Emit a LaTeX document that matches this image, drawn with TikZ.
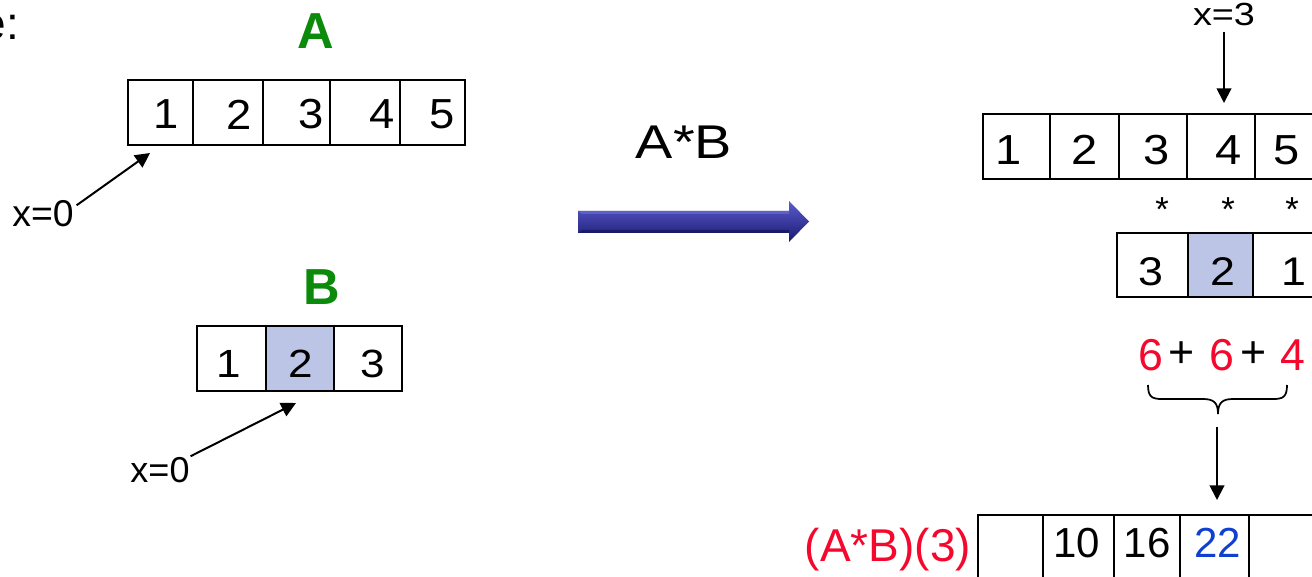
\documentclass[tikz,border=0pt]{standalone}
\usepackage{fontspec}
\setmainfont{Liberation Sans}
\usetikzlibrary{arrows.meta,fit}
\definecolor{lblgreen}{RGB}{12,138,12}
\definecolor{hlred}{RGB}{245,8,45}
\definecolor{hlblue}{RGB}{16,64,208}
\definecolor{cellblue}{RGB}{188,197,230}
\definecolor{bartop}{RGB}{92,92,205}
\definecolor{barmid}{RGB}{52,52,170}
\definecolor{barbot}{RGB}{24,24,112}
\definecolor{barhi}{RGB}{110,110,215}
\definecolor{barlo}{RGB}{20,20,95}
\newcommand{\fsz}[1]{\fontsize{#1}{1.2\dimexpr#1\relax}\selectfont}
\tikzset{
  cell/.style={draw=black, line width=1.4pt, inner sep=0pt, rectangle},
  hot/.style={cell, fill=cellblue},
  txt/.style={inner sep=0pt, outer sep=0pt},
  ptr/.style={-{Triangle[length=11pt,width=11pt]}, line width=1.5pt},
}
\begin{document}
\begin{tikzpicture}[x=0.75pt,y=-0.75pt]
\useasboundingbox (0,0) rectangle (1312,577);
\clip (0,0) rectangle (1312,577);

% heading fragment
\node[txt, anchor=base east, font=\fsz{34.5pt}] (head) at (19,40) {e:};

% ---------------- array A ----------------
\node[txt, font=\fsz{38pt}\bfseries, text=lblgreen] (lblA) at (315.5,31) {A};
\node[cell, fit={(128,80) (193,145)}] (a1) {};
\node[cell, fit={(193,80) (263,145)}] (a2) {};
\node[cell, fit={(263,80) (330,145)}] (a3) {};
\node[cell, fit={(330,80) (400,145)}] (a4) {};
\node[cell, fit={(400,80) (465,145)}] (a5) {};
\begin{scope}[every node/.style={txt, font=\fsz{31.5pt}, xscale=1.08}]
\node (va1) at (166.5,114.5) {1};
\node (va2) at (239,114.5) {2};
\node (va3) at (311,114.5) {3};
\node (va4) at (382,114.5) {4};
\node (va5) at (442.5,114.5) {5};
\end{scope}
\node[txt, font=\fsz{28pt}] (xa) at (43,213.5) {x=0};
\coordinate (tipA) at (150,153);
\draw[ptr] ([shift={(3,5)}]xa.north east) -- (tipA);

% ---------------- array B ----------------
\node[txt, font=\fsz{38pt}\bfseries, text=lblgreen] (lblB) at (321.5,287.5) {B};
\node[cell, fit={(197,326) (266,391)}] (b1) {};
\node[hot,  fit={(266,326) (334,391)}] (b2) {};
\node[cell, fit={(334,326) (402,391)}] (b3) {};
\begin{scope}[every node/.style={txt, font=\fsz{29.5pt}, xscale=1.12}]
\node (vb1) at (229,364) {1};
\node (vb2) at (301,364) {2};
\node (vb3) at (373,364) {3};
\end{scope}
\node[txt, font=\fsz{27pt}] (xb) at (160,470) {x=0};
\coordinate (tipB) at (296,403);
\draw[ptr] ([shift={(1,-1)}]xb.north east) -- (tipB);

% ---------------- operation ----------------
\node[txt, font=\fsz{35.5pt}, xscale=1.18] (op) at (684,142) {A*B};
\shade[top color=bartop, middle color=barmid, bottom color=barbot]
  (578,211) -- (789,211) -- (789,201) -- (809,221.5) -- (789,242)
  -- (789,233) -- (578,233) -- cycle;
\fill[barhi, opacity=0.6]
  (578,211) -- (789,211) -- (789,214) -- (582,214) -- cycle;
\fill[barlo, opacity=0.7]
  (578,233) -- (789,233) -- (789,230) -- (582,230) -- cycle;

% ---------------- shifted A ----------------
\node[txt, font=\fsz{24pt}, xscale=1.18] (x3) at (1224,14.5) {x=3};
\node[cell, fit={(983,114) (1050,179)}] (r1) {};
\node[cell, fit={(1050,114) (1119,179)}] (r2) {};
\node[cell, fit={(1119,114) (1187,179)}] (r3) {};
\node[cell, fit={(1187,114) (1255,179)}] (r4) {};
\node[cell, fit={(1255,114) (1330,179)}] (r5) {};
\begin{scope}[every node/.style={txt, font=\fsz{31.5pt}, xscale=1.12}]
\node (vr1) at (1009,150) {1};
\node (vr2) at (1085,150) {2};
\node (vr3) at (1156.5,150) {3};
\node (vr4) at (1229,150) {4};
\node (vr5) at (1287,150) {5};
\end{scope}
\coordinate (tipX) at (1224,103);
\draw[ptr] (1224,32) -- (tipX);

% multiplication marks
\begin{scope}[every node/.style={txt, font=\fsz{26pt}, anchor=north}]
\node (m1) at (1162,198) {*};
\node (m2) at (1228,198) {*};
\node (m3) at (1292,198) {*};
\end{scope}

% ---------------- flipped B ----------------
\node[cell, fit={(1117,233) (1188,297)}] (f1) {};
\node[hot,  fit={(1188,233) (1253,297)}] (f2) {};
\node[cell, fit={(1253,233) (1325,297)}] (f3) {};
\begin{scope}[every node/.style={txt, font=\fsz{30pt}, xscale=1.12}]
\node (vf1) at (1151,272) {3};
\node (vf2) at (1222.5,272) {2};
\node (vf3) at (1294,272) {1};
\end{scope}

% ---------------- sum of products ----------------
\begin{scope}[every node/.style={txt, font=\fsz{33.5pt}}]
\node[text=hlred] (p1) at (1151,355) {6};
\node (s1) at (1182,355) {+};
\node[text=hlred] (p2) at (1222,355) {6};
\node (s2) at (1254,355) {+};
\node[text=hlred] (p3) at (1293,355) {4};
\end{scope}
\draw[line width=1.3pt]
  (1148,385) .. controls (1148,397) and (1152,399) .. (1162,399)
  -- (1203,399) .. controls (1214,399) and (1218,403) .. (1218,414)
  .. controls (1218,403) and (1222,399) .. (1233,399)
  -- (1273,399) .. controls (1283,399) and (1287,397) .. (1287,385);
\coordinate (brace) at (1217,427);
\coordinate (tipS) at (1217,500);
\draw[ptr] (brace) -- (tipS);

% ---------------- result ----------------
\node[txt, font=\fsz{34.5pt}, text=hlred] (res) at (888,550) {(A*B)(3)};
\node[cell, fit={(978,515) (1043,600)}] (c1) {};
\node[cell, fit={(1043,515) (1114,600)}] (c2) {};
\node[cell, fit={(1114,515) (1180,600)}] (c3) {};
\node[cell, fit={(1180,515) (1249,600)}] (c4) {};
\node[cell, fit={(1249,515) (1320,600)}] (c5) {};
\begin{scope}[every node/.style={txt, font=\fsz{31.5pt}}]
\node (vc2) at (1076.5,543) {10};
\node (vc3) at (1147,543) {16};
\node[text=hlblue] (vc4) at (1217.5,543) {22};
\end{scope}
\end{tikzpicture}
\end{document}
